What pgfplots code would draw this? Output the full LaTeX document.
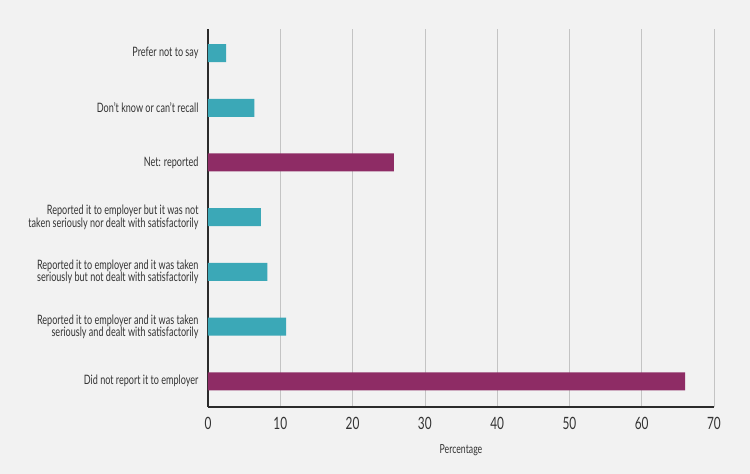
\documentclass[border=0pt]{standalone}
\usepackage{fontspec}
\setmainfont{Lato}[FakeStretch=0.7]
\usepackage{pgfplots}
\pgfplotsset{compat=1.18}
\definecolor{bg}{HTML}{F2F2F2}
\definecolor{barteal}{HTML}{3BA8B7}
\definecolor{barplum}{HTML}{8E2C65}
\definecolor{gridc}{HTML}{C4C4C4}
\definecolor{axisc}{HTML}{2B2B2B}
\definecolor{textc}{HTML}{333333}

% categories from bottom (0) to top (6)
\pgfplotstableread{
pos val
1 10.8
2 8.2
3 7.3
5 6.4
6 2.5
}\reported
\pgfplotstableread{
pos val
0 66.0
4 25.7
}\totals

\begin{document}
\begin{tikzpicture}
\fill[bg] (-208bp,-67bp) rectangle (542bp,407bp);
\begin{axis}[
  at={(0,0)}, anchor=south west,
  scale only axis, width=506bp, height=378bp,
  xbar, bar width=18bp, bar shift=0pt,
  xmin=0, xmax=70, ymin=-0.47, ymax=6.44,
  xtick={0,10,...,70},
  ytick={0,...,6},
  yticklabels={
    Did not report it to employer,
    {Reported it to employer and it was taken\\seriously and dealt with satisfactorily},
    {Reported it to employer and it was taken\\seriously but not dealt with satisfactorily},
    {Reported it to employer but it was not\\taken seriously nor dealt with satisfactorily},
    Net: reported,
    Don't know or can't recall,
    Prefer not to say},
  axis x line*=bottom, axis y line*=left,
  axis line style={-, color=axisc, line width=1.3pt},
  xmajorgrids, grid style={gridc, line width=0.7pt},
  major tick length=0pt,
  /pgf/number format/assume math mode=true,
  xticklabel style={font=\fontsize{17}{17}\selectfont, text=textc, yshift=-7bp},
  yticklabel style={font=\fontsize{13}{12.5}\selectfont, text=textc, align=right, xshift=-6bp},
  xlabel={Percentage},
  xlabel style={font=\fontsize{12.5}{13}\selectfont, text=textc, yshift=-8bp},
]
\addplot[fill=barteal, draw=none] table[x=val, y=pos] {\reported};
\addplot[fill=barplum, draw=none] table[x=val, y=pos] {\totals};
\end{axis}
\end{tikzpicture}
\end{document}
